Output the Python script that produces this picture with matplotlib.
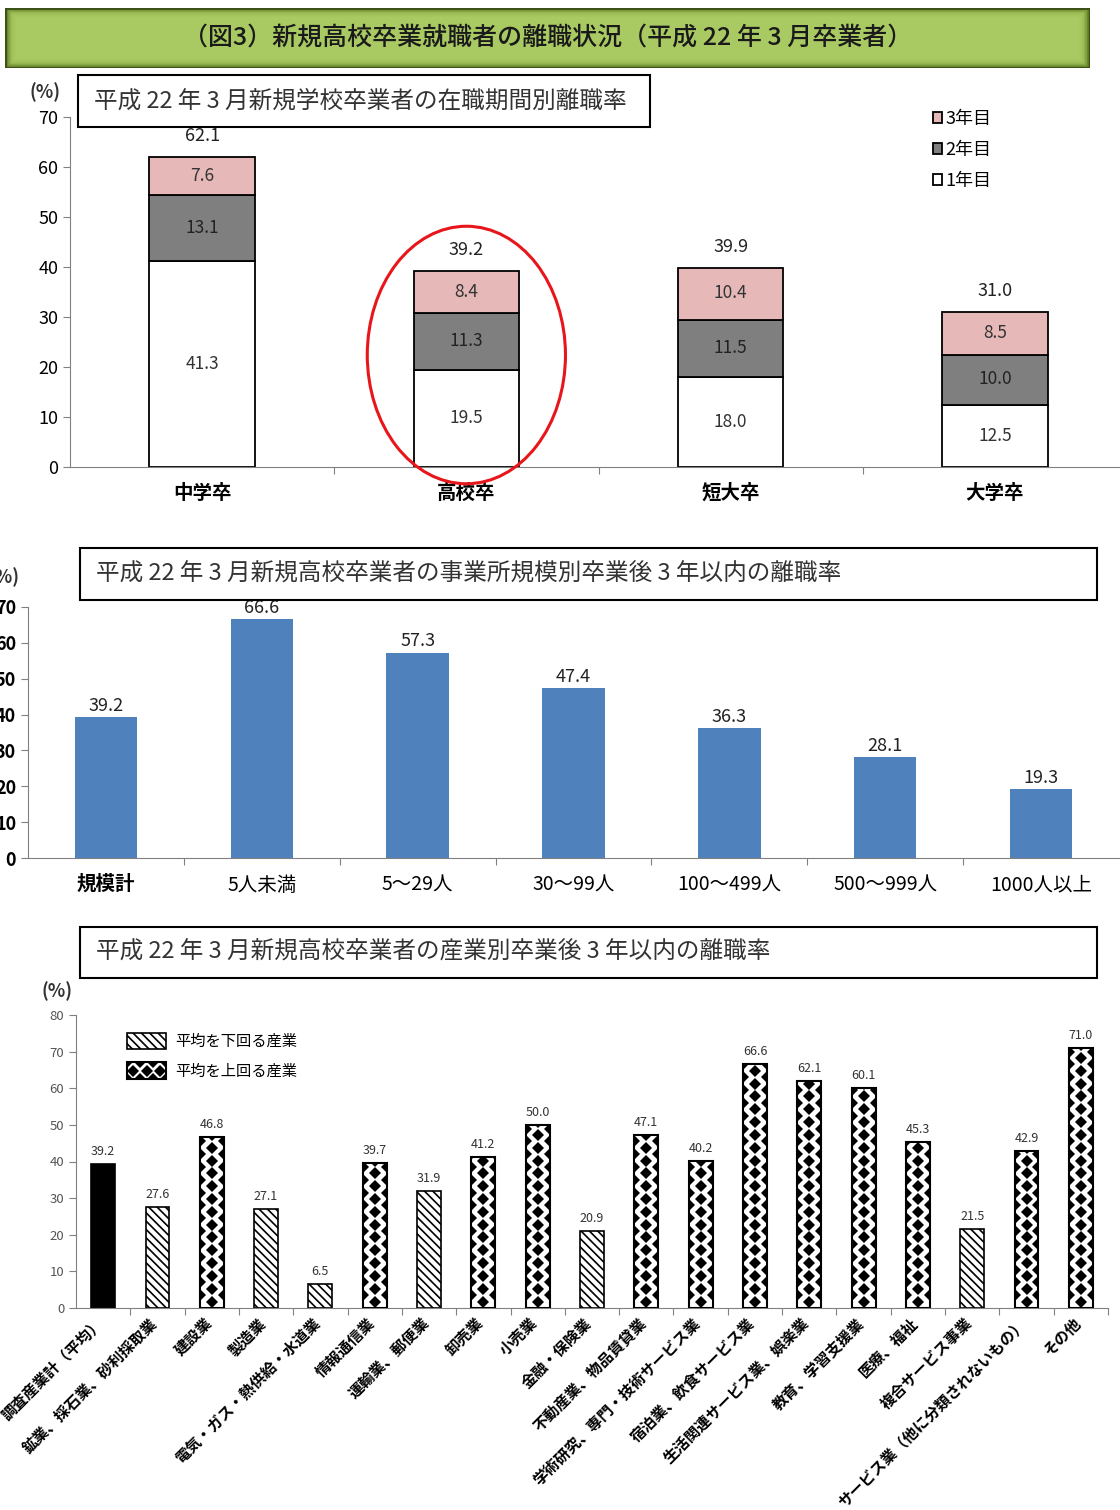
import numpy as np
import matplotlib.pyplot as plt
import matplotlib.transforms as mtransforms
from matplotlib.patches import Rectangle, Ellipse, Patch
from matplotlib.lines import Line2D
from matplotlib.legend_handler import HandlerBase
from matplotlib.colors import LinearSegmentedColormap

plt.rcParams['font.family'] = ['Noto Sans CJK JP', 'DejaVu Sans']
plt.rcParams['hatch.linewidth'] = 1.2

# ---- データ ----
# 図1: 在職期間別離職率
gakureki = ['中学卒', '高校卒', '短大卒', '大学卒']
nen1 = np.array([41.3, 19.5, 18.0, 12.5])
nen2 = np.array([13.1, 11.3, 11.5, 10.0])
nen3 = np.array([7.6, 8.4, 10.4, 8.5])
goukei = [62.1, 39.2, 39.9, 31.0]

# 図2: 事業所規模別
kibo = ['規模計', '5人未満', '5～29人', '30～99人', '100～499人', '500～999人', '1000人以上']
kibo_ritsu = [39.2, 66.6, 57.3, 47.4, 36.3, 28.1, 19.3]

# 図3: 産業別
sangyo = ['調査産業計（平均）', '鉱業、採石業、砂利採取業', '建設業', '製造業',
          '電気・ガス・熱供給・水道業', '情報通信業', '運輸業、郵便業', '卸売業', '小売業',
          '金融・保険業', '不動産業、物品賃貸業', '学術研究、専門・技術サービス業',
          '宿泊業、飲食サービス業', '生活関連サービス業、娯楽業', '教育、学習支援業',
          '医療、福祉', '複合サービス事業', 'サービス業（他に分類されないもの）', 'その他']
sangyo_ritsu = [39.2, 27.6, 46.8, 27.1, 6.5, 39.7, 31.9, 41.2, 50.0, 20.9, 47.1,
                40.2, 66.6, 62.1, 60.1, 45.3, 21.5, 42.9, 71.0]

W, H = 1120, 1510
fig = plt.figure(figsize=(W / 100, H / 100), dpi=100)


def fbox(x0, y0, x1, y1):
    # ピクセル座標 -> figure座標
    return [x0 / W, 1 - y1 / H, (x1 - x0) / W, (y1 - y0) / H]


def title_box(x0, y0, x1, y1, text, size=17):
    b = fbox(x0, y0, x1, y1)
    fig.patches.append(Rectangle((b[0], b[1]), b[2], b[3], transform=fig.transFigure,
                                 facecolor='white', edgecolor='black', lw=1.5, zorder=5))
    fig.text((x0 + 16) / W, 1 - (y0 + y1) / 2 / H, text, ha='left', va='center',
             fontsize=size, color='#333333', zorder=6)


def style_axes(ax):
    for s in ['top', 'right']:
        ax.spines[s].set_visible(False)
    for s in ['left', 'bottom']:
        ax.spines[s].set_color('#808080')
    ax.tick_params(axis='y', length=5, color='#808080')
    ax.tick_params(axis='x', which='major', length=5, color='#808080', labelbottom=False)
    ax.tick_params(axis='x', which='minor', length=0)


# ---- 見出し ----
axh = fig.add_axes(fbox(5, 8, 1090, 68))
yy, xx = np.mgrid[0:1:60j, 0:1:400j]
d = np.minimum(np.minimum(xx * 1085, (1 - xx) * 1085), np.minimum(yy * 60, (1 - yy) * 60))
grad = LinearSegmentedColormap.from_list('g', ['#5b7a22', '#9cbd55', '#a9c963'])
axh.imshow(np.clip(d / 9, 0, 1), cmap=grad, aspect='auto', extent=[0, 1, 0, 1])
axh.add_patch(Rectangle((0, 0), 1, 1, transform=axh.transAxes, fill=False,
                        edgecolor='#3c4f16', lw=2))
axh.set_axis_off()
axh.text(0.5, 0.5, '（図3）新規高校卒業就職者の離職状況（平成 22 年 3 月卒業者）',
         ha='center', va='center', fontsize=18, fontweight='medium', color='#1a1a1a')

# ---- 図1 ----
ax1 = fig.add_axes(fbox(70, 117, 1127, 467))
x = np.arange(len(gakureki))
b1 = ax1.bar(x, nen1, width=0.4, color='white', edgecolor='black', lw=1.3, label='1年目')
b2 = ax1.bar(x, nen2, width=0.4, bottom=nen1, color='#7f7f7f', edgecolor='black', lw=1.3,
             label='2年目')
b3 = ax1.bar(x, nen3, width=0.4, bottom=nen1 + nen2, color='#e6b9b8', edgecolor='black',
             lw=1.3, label='3年目')
for i in range(len(x)):
    ax1.text(x[i], nen1[i] / 2, f'{nen1[i]:.1f}', ha='center', va='center', fontsize=12.5,
             color='#333333')
    ax1.text(x[i], nen1[i] + nen2[i] / 2, f'{nen2[i]:.1f}', ha='center', va='center',
             fontsize=12.5, color='#222222')
    ax1.text(x[i], nen1[i] + nen2[i] + nen3[i] / 2, f'{nen3[i]:.1f}', ha='center',
             va='center', fontsize=12.5, color='#333333')
    ax1.annotate(f'{goukei[i]:.1f}', (x[i], nen1[i] + nen2[i] + nen3[i]),
                 xytext=(0, 15), textcoords='offset points', ha='center', va='center',
                 fontsize=13, color='#222222')
ax1.set_xlim(-0.5, len(x) - 0.5)
ax1.set_ylim(0, 70)
ax1.set_yticks(range(0, 71, 10))
ax1.set_xticks(x[:-1] + 0.5)
ax1.set_xticks(x, gakureki, minor=True)
style_axes(ax1)
ax1.tick_params(axis='x', which='minor', labelsize=14, pad=12)
for t in ax1.get_xticklabels(minor=True):
    t.set_fontweight('bold')
ax1.tick_params(axis='y', labelsize=13)
# 高校卒を囲む赤い楕円
ax1.add_patch(Ellipse((1, 22.4), 0.75, 51.5, fill=False, edgecolor='#e8161b', lw=2.2,
                      clip_on=False, zorder=5))
fig.text(45 / W, 1 - 92 / H, '(%)', ha='center', va='center', fontsize=13,
         fontweight='bold', color='#333333')
title_box(78, 75, 650, 127, '平成 22 年 3 月新規学校卒業者の在職期間別離職率')
fig.legend([b3, b2, b1], ['3年目', '2年目', '1年目'], loc='upper left',
           bbox_to_anchor=(924 / W, 1 - 101 / H), frameon=False, fontsize=13,
           handlelength=0.5, handleheight=0.5, handletextpad=0.2, labelspacing=0.72,
           borderpad=0)

# ---- 図2 ----
ax2 = fig.add_axes(fbox(28, 607, 1119, 858))
x2 = np.arange(len(kibo))
bars2 = ax2.bar(x2, kibo_ritsu, width=0.4, color='#4f81bd')
for i, v in enumerate(kibo_ritsu):
    ax2.annotate(f'{v:.1f}', (x2[i], v), xytext=(0, 8), textcoords='offset points',
                 ha='center', va='center', fontsize=13, color='#222222')
ax2.set_xlim(-0.5, len(x2) - 0.5)
ax2.set_ylim(0, 70)
ax2.set_yticks(range(0, 71, 10))
ax2.set_xticks(x2[:-1] + 0.5)
ax2.set_xticks(x2, kibo, minor=True)
style_axes(ax2)
ax2.tick_params(axis='x', which='minor', labelsize=14, pad=12)
ax2.tick_params(axis='y', labelsize=13)
for t in ax2.get_yticklabels():
    t.set_fontweight('bold')
ax2.get_xticklabels(minor=True)[0].set_fontweight('bold')
fig.text(-12 / W, 1 - 577 / H, '(%)', ha='left', va='center', fontsize=13,
         fontweight='bold', color='#333333')
title_box(80, 548, 1097, 600, '平成 22 年 3 月新規高校卒業者の事業所規模別卒業後 3 年以内の離職率')

# ---- 図3 ----
ax3 = fig.add_axes(fbox(76, 1015, 1108, 1308))
x3 = np.arange(len(sangyo))
heikin = sangyo_ritsu[0]
step = 3.5
for i, v in enumerate(sangyo_ritsu):
    if i == 0:
        ax3.bar(i, v, width=0.44, color='black', edgecolor='black', lw=1.2)
    elif v < heikin:
        ax3.bar(i, v, width=0.44, color='white', edgecolor='black', lw=1.2, hatch='\\\\\\\\')
    else:
        ax3.bar(i, v, width=0.44, color='white', edgecolor='none', zorder=1)
        rect = ax3.bar(i, v, width=0.44, facecolor='none', edgecolor='black', lw=1.5,
                       zorder=3)[0]
        ys = np.arange(step / 2, v + step, step)
        mid = ax3.plot(np.full(len(ys), i), ys, 'D', color='black', ms=6.2, mew=0,
                       zorder=2)[0]
        side = ax3.plot(np.r_[np.full(len(ys), i - 0.22), np.full(len(ys), i + 0.22)],
                        np.r_[ys + step / 2, ys + step / 2], 'D', color='black', ms=6.2,
                        mew=0, zorder=2)[0]
        mid.set_clip_path(rect)
        side.set_clip_path(rect)
    ax3.annotate(f'{v:.1f}', (i, v), xytext=(0, 9), textcoords='offset points',
                 ha='center', va='center', fontsize=9, color='#333333')
ax3.set_xlim(-0.5, len(x3) - 0.5)
ax3.set_ylim(0, 80)
ax3.set_yticks(range(0, 81, 10))
ax3.set_xticks(np.arange(len(x3)) + 0.5)
ax3.set_xticks(x3, sangyo, minor=True)
style_axes(ax3)
ax3.tick_params(axis='y', labelsize=9.5, labelcolor='#555555')
ax3.tick_params(axis='x', which='minor', labelsize=11, pad=5)
offset = mtransforms.ScaledTranslation(-6 / 72, 0, fig.dpi_scale_trans)
for t in ax3.get_xticklabels(minor=True):
    t.set_rotation(45)
    t.set_ha('right')
    t.set_va('top')
    t.set_rotation_mode('anchor')
    t.set_fontweight('bold')
    t.set_transform(t.get_transform() + offset)
fig.text(57 / W, 1 - 991 / H, '(%)', ha='center', va='center', fontsize=13,
         fontweight='bold', color='#333333')
title_box(80, 927, 1097, 978, '平成 22 年 3 月新規高校卒業者の産業別卒業後 3 年以内の離職率')


class DiamondHandler(HandlerBase):
    def create_artists(self, legend, orig_handle, xd, yd, width, height, fontsize, trans):
        bg = Rectangle((-xd, -yd), width, height, facecolor='white', edgecolor='none',
                       transform=trans)
        r = Rectangle((-xd, -yd), width, height, facecolor='none', edgecolor='black',
                      lw=1.5, transform=trans)
        n = 3
        cx = -xd + (np.arange(n) + 0.5) * width / n
        ex = -xd + np.arange(n + 1) * width / n
        m1 = Line2D(cx, np.full(n, -yd + height / 2), marker='D', ls='none', color='black',
                    ms=6, mew=0, transform=trans)
        m2 = Line2D(np.r_[ex, ex], np.r_[np.full(n + 1, -yd), np.full(n + 1, -yd + height)],
                    marker='D', ls='none', color='black', ms=6, mew=0, transform=trans)
        m1.set_clip_path(bg)
        m2.set_clip_path(bg)
        return [bg, m1, m2, r]


h_below = Patch(facecolor='white', edgecolor='black', hatch='\\\\\\\\', lw=1.2)
h_above = Patch(facecolor='white', edgecolor='black')
ax3.legend([h_below, h_above], ['平均を下回る産業', '平均を上回る産業'],
           handler_map={h_above: DiamondHandler()}, loc='upper left',
           bbox_to_anchor=(119 / W, 1 - 1025 / H), bbox_transform=fig.transFigure,
           frameon=False, fontsize=11, handlelength=2.6, handleheight=1.3,
           handletextpad=0.6, labelspacing=0.8, borderpad=0)

plt.savefig('out.png', dpi=100)
